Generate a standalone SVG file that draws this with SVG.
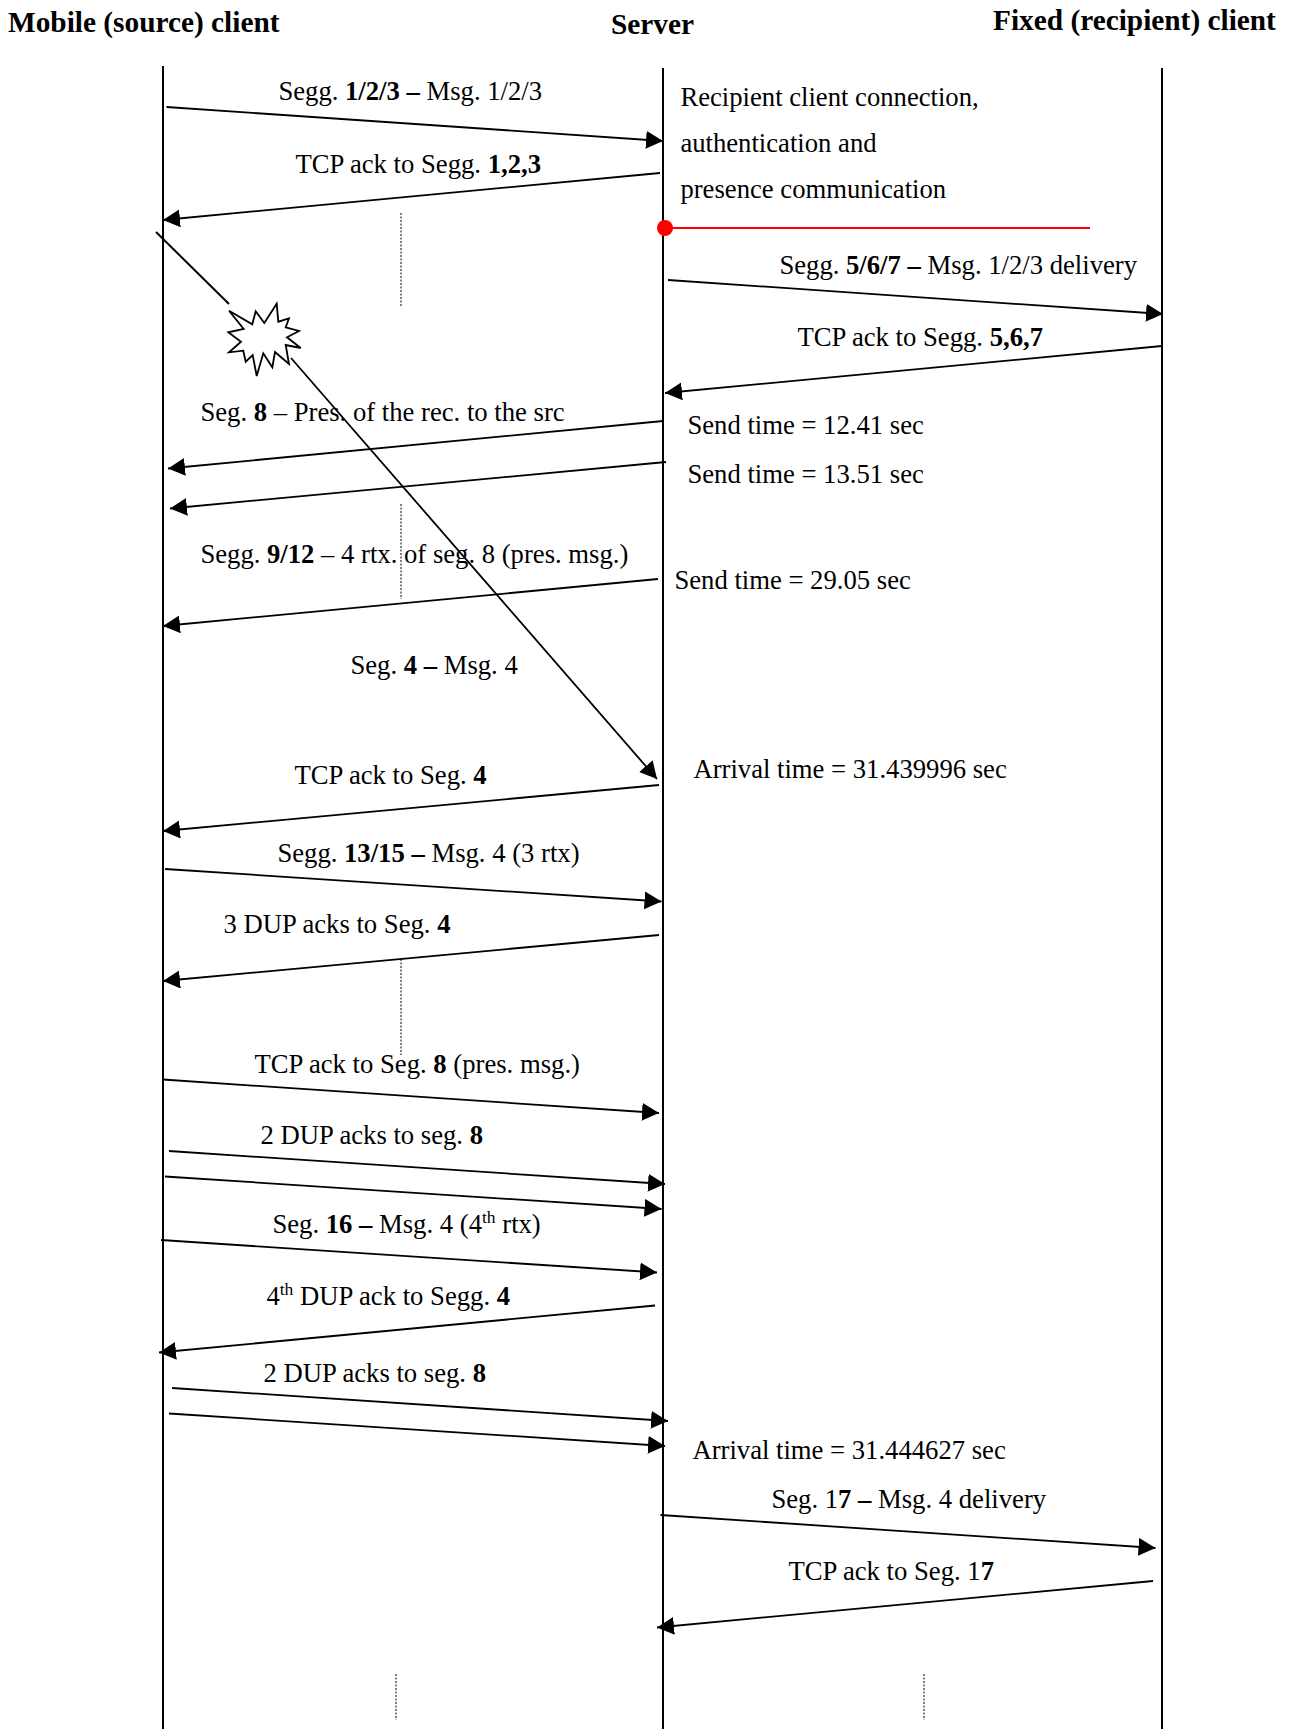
<svg xmlns="http://www.w3.org/2000/svg" width="1290" height="1729" viewBox="0 0 1290 1729">
<style>
text{font-family:"Liberation Serif","Times New Roman",serif;font-size:26.67px;fill:#000}
.h{font-weight:bold;font-size:29.33px}
.b{font-weight:bold}
.s{font-size:17.500px}
.l{stroke:#000;stroke-width:2;fill:none}
.a{stroke:#000;stroke-width:1.8;fill:none;marker-end:url(#ah)}
.d{stroke:#000;stroke-width:1;stroke-dasharray:2 1.5;fill:none}
</style>
<defs><marker id="ah" markerUnits="userSpaceOnUse" markerWidth="19" markerHeight="19" refX="17" refY="9" orient="auto"><path d="M0,0L17,9L0,18Z" fill="#000"/></marker></defs>
<rect width="1290" height="1729" fill="#fff"/>
<g id="mobile"><text class="h" x="8" y="31.500">Mobile (source) client</text><line class="l" x1="163" y1="66" x2="163" y2="1729"/></g>
<g id="server"><text class="h" x="611" y="33.500">Server</text><line class="l" x1="663" y1="68" x2="663" y2="1729"/></g>
<g id="fixed"><text class="h" x="993" y="29.500">Fixed (recipient) client</text><line class="l" x1="1162" y1="68" x2="1162" y2="1729"/></g>
<g id="connectors">
<line class="a" x1="166.500" y1="107" x2="663" y2="141"/>
<line class="a" x1="660" y1="173" x2="163" y2="220"/>
<line class="a" x1="668" y1="280" x2="1163" y2="314"/>
<line class="a" x1="1162" y1="346" x2="665" y2="393"/>
<line class="a" x1="663" y1="421" x2="168" y2="468.500"/>
<line class="a" x1="666" y1="462" x2="170" y2="508.500"/>
<line class="a" x1="658" y1="579" x2="163" y2="626"/>
<line class="a" x1="291" y1="358" x2="657" y2="779"/>
<line class="a" x1="659" y1="785" x2="163" y2="831"/>
<line class="a" x1="165" y1="869" x2="661.500" y2="901.500"/>
<line class="a" x1="659" y1="935" x2="163" y2="981"/>
<line class="a" x1="163" y1="1079.500" x2="659" y2="1113"/>
<line class="a" x1="169" y1="1151" x2="665" y2="1184"/>
<line class="a" x1="165" y1="1176.500" x2="661.500" y2="1209"/>
<line class="a" x1="161" y1="1240" x2="657" y2="1272.500"/>
<line class="a" x1="655" y1="1305.500" x2="159" y2="1352.500"/>
<line class="a" x1="172" y1="1388" x2="668" y2="1421"/>
<line class="a" x1="169" y1="1413.500" x2="665" y2="1446"/>
<line class="a" x1="660.500" y1="1515" x2="1155.500" y2="1548"/>
<line class="a" x1="1153" y1="1581" x2="657" y2="1627.500"/>
<line class="l" x1="156" y1="232" x2="229" y2="304"/>
<line class="d" x1="401" y1="213" x2="401" y2="306"/>
<line class="d" x1="401" y1="504" x2="401" y2="599"/>
<line class="d" x1="401" y1="959" x2="401" y2="1055"/>
<line class="d" x1="396" y1="1674" x2="396" y2="1720"/>
<line class="d" x1="924" y1="1674" x2="924" y2="1720"/>
<line x1="665" y1="228" x2="1090" y2="228" stroke="#f00" stroke-width="2"/>
<circle cx="665" cy="228" r="8" fill="#f00"/>
</g>
<g id="burst"><path d="M229,310.700L252.300,324.300L255.700,311.300L264.300,323L276.700,303.700L278.300,321.700L289,318.300L285.700,327.300L299,331L287,337.300L300.700,348L285.700,345L289,364L275,352L272.300,367.300L263.300,353.300L256.700,376L252.700,355L245.700,361.700L243.300,350.700L229,352.300L241,341.700L228.300,332.300L243.700,329Z" fill="#fff" stroke="#000" stroke-width="1.800"/></g>
<g id="labels" transform="translate(0.400 0.400)">
<text x="278" y="100">Segg. <tspan class="b">1/2/3 –</tspan> Msg. 1/2/3</text>
<text x="295" y="173">TCP ack to Segg. <tspan class="b">1,2,3</tspan></text>
<text x="680" y="106">Recipient client connection,</text>
<text x="680" y="152">authentication and</text>
<text x="680" y="198">presence communication</text>
<text x="779" y="274">Segg. <tspan class="b">5/6/7 –</tspan> Msg. 1/2/3 delivery</text>
<text x="797" y="346">TCP ack to Segg. <tspan class="b">5,6,7</tspan></text>
<text x="200" y="421">Seg. <tspan class="b">8</tspan> – Pres. of the rec. to the src</text>
<text x="687" y="434">Send time = 12.41 sec</text>
<text x="687" y="483">Send time = 13.51 sec</text>
<text x="200" y="563">Segg. <tspan class="b">9/12</tspan> – 4 rtx. of seg. 8 (pres. msg.)</text>
<text x="674" y="589">Send time = 29.05 sec</text>
<text x="350" y="674">Seg. <tspan class="b">4 –</tspan> Msg. 4</text>
<text x="294" y="784">TCP ack to Seg. <tspan class="b">4</tspan></text>
<text x="693" y="778">Arrival time = 31.439996 sec</text>
<text x="277" y="862">Segg. <tspan class="b">13/15 –</tspan> Msg. 4 (3 rtx)</text>
<text x="223" y="933">3 DUP acks to Seg. <tspan class="b">4</tspan></text>
<text x="254" y="1073">TCP ack to Seg. <tspan class="b">8</tspan> (pres. msg.)</text>
<text x="260" y="1144">2 DUP acks to seg. <tspan class="b">8</tspan></text>
<text x="272" y="1233">Seg. <tspan class="b">16 –</tspan> Msg. 4 (4<tspan class="s" dy="-10">th</tspan><tspan dy="10"> rtx)</tspan></text>
<text x="266" y="1305">4<tspan class="s" dy="-10">th</tspan><tspan dy="10"> DUP ack to Segg. </tspan><tspan class="b">4</tspan></text>
<text x="263" y="1382">2 DUP acks to seg. <tspan class="b">8</tspan></text>
<text x="692" y="1459">Arrival time = 31.444627 sec</text>
<text x="771" y="1508">Seg. 1<tspan class="b">7 –</tspan> Msg. 4 delivery</text>
<text x="788" y="1580">TCP ack to Seg. 1<tspan class="b">7</tspan></text>
</g>
</svg>
